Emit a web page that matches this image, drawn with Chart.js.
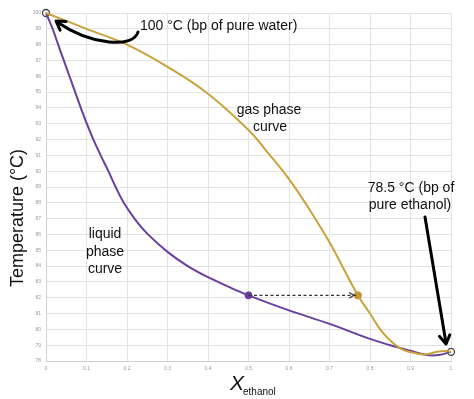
<!DOCTYPE html>
<html>
<head>
<meta charset="utf-8">
<script src="https://cdn.jsdelivr.net/npm/chart.js@4"></script>
<style>
  html, body { margin: 0; padding: 0; background: #fff; }
  #wrap { width: 474px; height: 399px; position: relative; }
</style>
</head>
<body>
<div id="wrap"><canvas id="chart"></canvas></div>
<script>
// liquid phase curve (x = mole fraction ethanol, T in °C)
const liquidX = [0, 0.0165, 0.03, 0.044, 0.058, 0.072, 0.086, 0.1, 0.117, 0.135, 0.154, 0.172, 0.192, 0.22, 0.25, 0.3, 0.35, 0.4, 0.45, 0.5, 0.6, 0.7, 0.8, 0.85, 0.9, 0.94, 0.97, 1];
const liquidT = [100, 99, 98, 97, 96, 95, 94, 93.05, 92, 91, 90, 89, 88, 86.95, 86.05, 84.9, 84.0, 83.3, 82.7, 82.15, 81.2, 80.35, 79.4, 79.0, 78.65, 78.38, 78.38, 78.58];

// gas phase curve
const gasX = [0, 0.1, 0.2, 0.3, 0.4, 0.5, 0.55, 0.6, 0.65, 0.7, 0.77, 0.8, 0.833, 0.875, 0.915, 0.94, 0.965, 0.985, 1];
const gasT = [100, 99.0, 98.0, 96.6, 94.9, 92.6, 91.1, 89.5, 87.6, 85.5, 82.15, 81.0, 79.75, 78.8, 78.48, 78.42, 78.58, 78.64, 78.58];

// tie line at 82.15 °C
const tieX = [0.5, 0.77];
const tieT = [82.15, 82.15];

// pure-component boiling points
const pureX = [0, 1];
const pureT = [100, 78.58];

const xTicks = [0, 0.1, 0.2, 0.3, 0.4, 0.5, 0.6, 0.7, 0.8, 0.9, 1];

const gold = '#c9a23a';
const purple = '#6a3fa0';
const toPts = (xs, ys) => xs.map((x, i) => ({ x: x, y: ys[i] }));

function arrowHead(ctx, tipX, tipY, fromX, fromY, size) {
  const a = Math.atan2(tipY - fromY, tipX - fromX);
  ctx.beginPath();
  ctx.moveTo(tipX - size * Math.cos(a - 0.55), tipY - size * Math.sin(a - 0.55));
  ctx.lineTo(tipX, tipY);
  ctx.lineTo(tipX - size * Math.cos(a + 0.55), tipY - size * Math.sin(a + 0.55));
  ctx.stroke();
}

// text labels, arrows and axis titles
const annotations = {
  id: 'annotations',
  afterDatasetsDraw(chart) {
    const ctx = chart.ctx;
    const xs = chart.scales.x, ys = chart.scales.y;
    ctx.save();
    ctx.fillStyle = '#111';
    ctx.font = '14px "Liberation Sans", Arial, sans-serif';
    ctx.textBaseline = 'middle';
    ctx.textAlign = 'left';
    ctx.fillText('100 °C (bp of pure water)', 140, 26);

    ctx.textAlign = 'center';
    ctx.fillText('gas phase', 269, 110);
    ctx.fillText('curve', 270, 127);
    ctx.fillText('liquid', 105, 234);
    ctx.fillText('phase', 105, 252);
    ctx.fillText('curve', 105, 269);
    ctx.fillText('78.5 °C (bp of', 411, 188);
    ctx.fillText('pure ethanol)', 410, 205);

    // curved arrow to water bp
    ctx.strokeStyle = '#000';
    ctx.lineWidth = 3;
    ctx.lineCap = 'round';
    ctx.lineJoin = 'round';
    ctx.beginPath();
    ctx.moveTo(138, 32);
    ctx.bezierCurveTo(134, 48, 92, 46, 57, 22);
    ctx.stroke();
    arrowHead(ctx, 56, 21, 75, 34, 10);

    // straight arrow to ethanol bp
    ctx.beginPath();
    ctx.moveTo(425, 217);
    ctx.lineTo(446, 343);
    ctx.stroke();
    arrowHead(ctx, 446, 344, 443, 325, 10);

    // tie line arrowhead
    ctx.lineWidth = 1.2;
    ctx.strokeStyle = '#333';
    const tx = xs.getPixelForValue(tieX[1]) - 4;
    const ty = ys.getPixelForValue(tieT[1]);
    arrowHead(ctx, tx, ty, tx - 10, ty, 5);

    // y axis title
    ctx.save();
    ctx.translate(18, 218);
    ctx.rotate(-Math.PI / 2);
    ctx.font = '18px "Liberation Sans", Arial, sans-serif';
    ctx.textAlign = 'center';
    ctx.fillText('Temperature (°C)', 0, 0);
    ctx.restore();

    // x axis title with subscript
    ctx.textAlign = 'left';
    ctx.textBaseline = 'alphabetic';
    ctx.font = 'italic 21px "Liberation Sans", Arial, sans-serif';
    ctx.fillText('X', 230, 390);
    ctx.font = '10px "Liberation Sans", Arial, sans-serif';
    ctx.fillText('ethanol', 243, 395);
    ctx.restore();
  }
};

new Chart(document.getElementById('chart'), {
  type: 'scatter',
  data: {
    datasets: [
      {
        label: 'tie line',
        data: toPts(tieX, tieT),
        showLine: true,
        borderColor: '#333',
        borderWidth: 1.2,
        borderDash: [3, 2.5],
        pointRadius: 0
      },
      {
        label: 'gas',
        data: toPts(gasX, gasT),
        showLine: true,
        borderColor: gold,
        borderWidth: 2,
        tension: 0.4,
        pointRadius: 0
      },
      {
        label: 'liquid',
        data: toPts(liquidX, liquidT),
        showLine: true,
        borderColor: purple,
        borderWidth: 2,
        tension: 0.4,
        pointRadius: 0
      },
      {
        label: 'tie points',
        data: toPts(tieX, tieT),
        showLine: false,
        pointRadius: 3.5,
        backgroundColor: [purple, '#c08a30'],
        borderColor: [purple, '#c08a30']
      },
      {
        label: 'pure',
        data: toPts(pureX, pureT),
        showLine: false,
        pointRadius: 3.5,
        borderWidth: 1.3,
        backgroundColor: '#fff',
        borderColor: '#444'
      }
    ]
  },
  options: {
    responsive: true,
    maintainAspectRatio: false,
    animation: false,
    clip: false,
    layout: { padding: { left: 0, right: 23, top: 13, bottom: 0 } },
    plugins: { legend: { display: false }, tooltip: { enabled: false } },
    scales: {
      x: {
        type: 'linear',
        min: 0,
        max: 1,
        afterFit(scale) { scale.height = 38; },
        afterBuildTicks(scale) { scale.ticks = xTicks.map(v => ({ value: v })); },
        grid: { color: '#e3e3e3', drawTicks: false },
        border: { color: '#d0d0d0' },
        ticks: {
          padding: 5,
          color: '#999',
          font: { size: 5, family: 'Arial, sans-serif' },
          maxRotation: 0,
          callback: v => String(Number(v.toFixed(1)))
        }
      },
      y: {
        min: 78,
        max: 100,
        afterFit(scale) { scale.width = 46; },
        grid: { color: '#e3e3e3', drawTicks: false },
        border: { color: '#d0d0d0' },
        ticks: {
          stepSize: 1,
          padding: 5,
          color: '#999',
          font: { size: 5, family: 'Arial, sans-serif' }
        }
      }
    }
  },
  plugins: [annotations]
});
</script>
</body>
</html>
